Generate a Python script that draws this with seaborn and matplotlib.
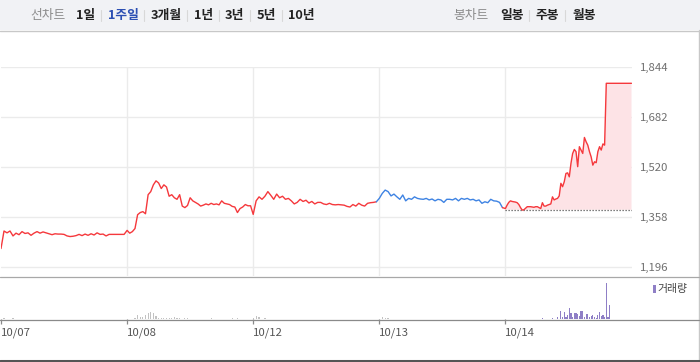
import numpy as np
import pandas as pd
import matplotlib
matplotlib.use("Agg")
import matplotlib.pyplot as plt
from matplotlib.lines import Line2D
from matplotlib.patches import Rectangle
import seaborn as sns

# ---------------- data ----------------
day_labels = ["10/07", "10/08", "10/12", "10/13", "10/14"]
y_ticks = [1196, 1358, 1520, 1682, 1844]
prev_close = 1381

price_d0 = [1255, 1312, 1306, 1312, 1296, 1305, 1300, 1310, 1304, 1306, 1298, 1305, 1310, 1305,
            1309, 1306, 1303, 1300, 1303, 1302, 1302, 1301, 1296, 1294, 1295, 1297, 1301, 1297,
            1302, 1298, 1303, 1299, 1306, 1301, 1302, 1296, 1301, 1301, 1301, 1301, 1301, 1301]
price_d1 = [1314, 1305, 1310, 1320, 1365, 1372, 1375, 1368, 1430, 1440, 1462, 1475, 1468, 1450,
            1462, 1455, 1425, 1430, 1420, 1415, 1430, 1393, 1388, 1395, 1420, 1410, 1405, 1400,
            1393, 1396, 1400, 1397, 1402, 1398, 1400, 1397, 1410, 1402, 1400, 1398, 1392, 1390,
            1372, 1385, 1390, 1398, 1394, 1394]
price_d2 = [1366, 1410, 1423, 1415, 1425, 1440, 1428, 1415, 1432, 1420, 1425, 1415, 1418, 1410,
            1400, 1405, 1415, 1408, 1412, 1403, 1408, 1400, 1405, 1405, 1400, 1398, 1402, 1398,
            1397, 1398, 1397, 1396, 1392, 1390, 1398, 1393, 1402, 1396, 1393, 1402, 1404, 1405, 1407]
price_d3 = [1418, 1434, 1445, 1440, 1426, 1432, 1423, 1415, 1429, 1410, 1418, 1415, 1423, 1418,
            1416, 1415, 1418, 1413, 1416, 1410, 1415, 1413, 1405, 1415, 1415, 1413, 1418, 1410,
            1418, 1415, 1418, 1413, 1415, 1410, 1413, 1402, 1407, 1404, 1415, 1410, 1409, 1405, 1388]
price_d4 = [1385, 1396, 1405, 1410, 1408, 1407, 1406, 1404, 1398, 1388, 1380, 1381, 1386, 1391,
            1391, 1391, 1390, 1389, 1391, 1391, 1388, 1385, 1404, 1393, 1393, 1396, 1398, 1400,
            1423, 1413, 1416, 1418, 1426,
            1467, 1456, 1472, 1499, 1501, 1488, 1532, 1564, 1577, 1570, 1521, 1586, 1575, 1564,
            1616, 1602, 1591, 1570, 1553, 1526, 1537, 1534, 1570, 1586, 1575, 1595, 1591,
            1792, 1792, 1792, 1792, 1792, 1792, 1792, 1792, 1792, 1792, 1792, 1792, 1792, 1792,
            1792, 1792]

vol_d0 = {1: 100, 4: 100}
vol_d1 = {3: 100, 4: 430, 5: 220, 6: 270, 7: 420, 8: 600, 9: 700, 10: 600, 11: 330, 12: 170,
          13: 170, 14: 130, 15: 130, 16: 130, 17: 130, 18: 200, 19: 170, 20: 130, 22: 100,
          23: 100, 32: 100, 40: 100, 42: 100}
vol_d2 = {0: 170, 1: 330, 2: 200, 4: 130}
vol_d3 = {1: 270, 2: 170, 3: 100}
vol_d4 = {22: 100, 28: 100, 31: 200, 33: 830, 34: 270, 35: 770, 36: 270, 37: 430, 38: 1100,
          39: 600, 40: 270, 41: 600, 42: 670, 43: 500, 44: 330, 45: 830, 46: 830, 47: 270,
          48: 530, 49: 530, 50: 270, 51: 370, 52: 430, 53: 270, 54: 170, 55: 430, 56: 770,
          57: 370, 58: 430, 59: 200, 60: 3670, 61: 200, 62: 1470}

# ---------------- figure ----------------
W, H = 700, 362
sns.set_style("white")
plt.rcParams["font.family"] = ["Noto Sans CJK KR", "DejaVu Sans"]

fig = plt.figure(figsize=(W / 100, H / 100), dpi=100)


def fx(px):
    return px / W


def fy(py):
    return 1 - py / H


# header
fig.patches.append(Rectangle((0, fy(30)), 1, 30 / H, transform=fig.transFigure,
                             facecolor="#f1f2f5", edgecolor="none", zorder=0))
fig.add_artist(Line2D([0, 1], [fy(30.5)] * 2, color="#c8c8c8", lw=1))

header_items = [("선차트", 48, "#8c8c8c", "normal"), ("1일", 85.5, "#222222", "bold"),
                ("1주일", 123.5, "#2c4fb3", "bold"), ("3개월", 166, "#222222", "bold"),
                ("1년", 203.5, "#222222", "bold"), ("3년", 234.5, "#222222", "bold"),
                ("5년", 266, "#222222", "bold"), ("10년", 301.5, "#222222", "bold"),
                ("봉차트", 471.5, "#8c8c8c", "normal"), ("일봉", 512, "#222222", "bold"),
                ("주봉", 547, "#222222", "bold"), ("월봉", 584, "#222222", "bold")]
for s, cx, col, wt in header_items:
    fig.text(fx(cx), fy(15.5), s, ha="center", va="center", fontsize=9.2,
             color=col, fontweight=wt)
for sx in [101, 144, 187, 219, 250, 282, 529, 565]:
    fig.add_artist(Line2D([fx(sx)] * 2, [fy(10), fy(21)], color="#d8d8d8", lw=0.8))

# borders
fig.add_artist(Line2D([fx(698.5)] * 2, [fy(30), fy(360)], color="#c8c8c8", lw=1))
fig.add_artist(Line2D([0, fx(699)], [fy(276.5)] * 2, color="#a8a8a8", lw=0.9))
fig.add_artist(Line2D([0, fx(699)], [fy(319.5)] * 2, color="#8a8a8a", lw=0.9))
fig.add_artist(Line2D([0, 1], [fy(361)] * 2, color="#555555", lw=2.2))

# main axes
ax = fig.add_axes([fx(1), fy(276), 630.5 / W, (276 - 67.3) / H])
ax.set_xlim(0, 5)
ax.set_ylim(1196 - 9.3 * 3.25, 1844)
for sp in ax.spines.values():
    sp.set_visible(False)
ax.yaxis.tick_right()
ax.set_yticks(y_ticks)
ax.set_yticklabels([f"{v:,}" for v in y_ticks])
ax.tick_params(axis="y", length=0, pad=6.2, labelsize=8.2, labelcolor="#707070")
ax.set_xticks([])
ax.grid(axis="y", color="#ebebeb", lw=1)
ax.set_axisbelow(True)
for d in range(1, 5):
    ax.axvline(d, color="#ebebeb", lw=1, zorder=0)

days = [price_d0, price_d1, price_d2, price_d3, price_d4]
times = []
for d, p in enumerate(days):
    if d < 4:
        times.append(np.linspace(d, d + 1, len(p), endpoint=False))
    else:
        times.append(np.linspace(d, d + 1, len(p)))

red = "#f5383c"
blue = "#3e83e3"

# fill for last day
t4 = times[4]
p4 = np.array(price_d4, dtype=float)
ax.fill_between(t4, prev_close, p4, where=p4 >= prev_close, interpolate=True,
                color="#fde3e6", lw=0, zorder=1)
ax.hlines(prev_close, t4[0], t4[-1], colors="#555555", lw=0.9,
          linestyles=(0, (1, 1.4)), zorder=2)

# segments
seg_red1 = pd.DataFrame({"t": np.concatenate(times[:3]),
                         "p": np.concatenate([price_d0, price_d1, price_d2])})
seg_blue = pd.DataFrame({"t": np.concatenate([[times[2][-1]], times[3]]),
                         "p": [price_d2[-1]] + price_d3})
seg_red2 = pd.DataFrame({"t": np.concatenate([[times[3][-1]], times[4]]),
                         "p": [price_d3[-1]] + price_d4})
for seg, col in [(seg_red1, red), (seg_blue, blue), (seg_red2, red)]:
    sns.lineplot(data=seg, x="t", y="p", ax=ax, color=col, lw=1.0,
                 estimator=None, sort=False, legend=False, zorder=3)
ax.set_xlabel("")
ax.set_ylabel("")

# volume axes
vax = fig.add_axes([fx(1), fy(319.3), 630.5 / W, (319.3 - 276.5) / H])
vax.set_xlim(0, 5)
vax.set_ylim(0, 4330)
for sp in vax.spines.values():
    sp.set_visible(False)
vols = [vol_d0, vol_d1, vol_d2, vol_d3, vol_d4]
for d, vd in enumerate(vols):
    idx = list(vd.keys())
    tx = times[d][idx]
    hv = list(vd.values())
    vax.bar(tx, hv, width=0.0095, color="#8f7fc6" if d == 4 else "#c2c2c2",
            lw=0, align="center")
vax.set_yticks([])
vax.set_xticks(range(5))
vax.set_xticklabels(day_labels)
vax.tick_params(axis="x", length=3.6, width=0.9, color="#8a8a8a", pad=2.5,
                labelsize=8.2, labelcolor="#555555", bottom=True)
for lab in vax.get_xticklabels():
    lab.set_horizontalalignment("left")

# volume legend
fig.patches.append(Rectangle((fx(653.3), fy(293.3)), 2.6 / W, 8.3 / H,
                             transform=fig.transFigure, facecolor="#8f7fc6",
                             edgecolor="none"))
fig.text(fx(657.5), fy(289.3), "거래량", ha="left", va="center", fontsize=7.8,
         color="#444444")

fig.savefig("out.png", dpi=100)
